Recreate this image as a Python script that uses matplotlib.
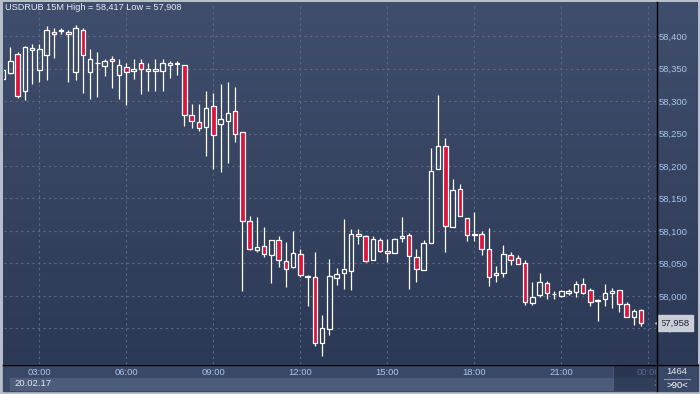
import numpy as np
import matplotlib
matplotlib.use("Agg")
import matplotlib.pyplot as plt
import matplotlib.transforms as mtransforms
from matplotlib.colors import LinearSegmentedColormap
from matplotlib.lines import Line2D
from matplotlib.patches import Rectangle
from matplotlib.ticker import FuncFormatter

# USDRUB 15 minute bars, first bar 01:45 (partly hidden at left edge)
symbol = "USDRUB 15M"
start_time = "01:45"
bar_minutes = 15

opens = [
    58.334, 58.343, 58.372, 58.316, 58.378, 58.348, 58.371, 58.407, 58.408, 58.407,
    58.344, 58.410, 58.344, 58.358, 58.354, 58.365, 58.340, 58.352, 58.347, 58.358,
    58.347, 58.347, 58.347, 58.355, 58.357, 58.355, 58.279, 58.267, 58.260, 58.292,
    58.264, 58.270, 58.284, 58.252, 58.115, 58.071, 58.076, 58.063, 58.086, 58.053,
    58.044, 58.064, 58.029, 58.029, 57.927, 57.949, 58.027, 58.035, 58.038, 58.092,
    58.092, 58.055, 58.086, 58.069, 58.066, 58.089, 58.093, 58.060, 58.040, 58.081,
    58.195, 58.230, 58.106, 58.164, 58.120, 58.093, 58.095, 58.072, 58.032, 58.035,
    58.063, 58.058, 58.050, 57.989, 58.001, 58.020, 58.003, 58.000, 58.004, 58.006,
    58.018, 58.009, 57.992, 57.995, 58.004, 58.009, 57.987, 57.967, 57.978]
highs = [
    58.348, 58.383, 58.376, 58.385, 58.388, 58.388, 58.415, 58.412, 58.412, 58.409,
    58.417, 58.413, 58.380, 58.376, 58.365, 58.369, 58.364, 58.359, 58.364, 58.365,
    58.358, 58.364, 58.364, 58.361, 58.361, 58.356, 58.296, 58.296, 58.315, 58.313,
    58.327, 58.329, 58.322, 58.252, 58.123, 58.121, 58.106, 58.086, 58.092, 58.083,
    58.100, 58.072, 58.032, 58.067, 57.970, 58.056, 58.043, 58.118, 58.103, 58.103,
    58.093, 58.092, 58.089, 58.087, 58.089, 58.121, 58.096, 58.072, 58.086, 58.227,
    58.310, 58.243, 58.180, 58.173, 58.120, 58.129, 58.100, 58.105, 58.046, 58.078,
    58.067, 58.063, 58.055, 58.021, 58.035, 58.023, 58.007, 58.009, 58.010, 58.023,
    58.027, 58.012, 57.995, 58.018, 58.012, 58.009, 57.990, 57.980, 57.980]
lows = [
    58.334, 58.341, 58.305, 58.302, 58.326, 58.329, 58.332, 58.367, 58.403, 58.329,
    58.333, 58.313, 58.303, 58.306, 58.339, 58.320, 58.303, 58.294, 58.334, 58.311,
    58.316, 58.316, 58.316, 58.336, 58.340, 58.262, 58.259, 58.254, 58.216, 58.196,
    58.190, 58.205, 58.237, 58.007, 58.071, 58.068, 58.060, 58.020, 58.044, 58.013,
    58.043, 58.029, 57.984, 57.923, 57.908, 57.940, 58.016, 58.010, 58.009, 58.080,
    58.052, 58.055, 58.067, 58.052, 58.066, 58.083, 58.011, 58.021, 58.040, 58.081,
    58.195, 58.068, 58.106, 58.123, 58.084, 58.084, 58.063, 58.015, 58.021, 58.029,
    58.047, 58.049, 57.986, 57.986, 57.998, 57.995, 57.995, 57.998, 58.001, 57.998,
    58.003, 57.984, 57.961, 57.984, 57.981, 57.975, 57.967, 57.955, 57.953]
closes = [
    58.348, 58.361, 58.307, 58.383, 58.381, 58.380, 58.410, 58.404, 58.410, 58.404,
    58.413, 58.371, 58.364, 58.358, 58.361, 58.361, 58.355, 58.344, 58.350, 58.350,
    58.350, 58.350, 58.358, 58.358, 58.359, 58.278, 58.269, 58.259, 58.290, 58.248,
    58.272, 58.281, 58.249, 58.116, 58.072, 58.075, 58.064, 58.086, 58.055, 58.041,
    58.066, 58.032, 58.030, 57.927, 57.950, 58.030, 58.033, 58.041, 58.095, 58.095,
    58.053, 58.087, 58.069, 58.066, 58.087, 58.092, 58.061, 58.041, 58.081, 58.193,
    58.230, 58.108, 58.163, 58.123, 58.093, 58.095, 58.072, 58.029, 58.035, 58.064,
    58.055, 58.049, 57.990, 57.998, 58.021, 58.004, 58.003, 58.007, 58.007, 58.018,
    58.004, 57.990, 57.993, 58.004, 58.007, 57.987, 57.967, 57.976, 57.958]

tick_times = ["03:00", "06:00", "09:00", "12:00", "15:00", "18:00", "21:00", "00:00"]
price_ticks = [57.95, 58.00, 58.05, 58.10, 58.15, 58.20, 58.25, 58.30, 58.35, 58.40]
dates = ["20.02.17", "21.02.17"]
bars_total = "1464"
zoom_text = ">90<"

plt.rcParams["font.family"] = ["Liberation Sans", "DejaVu Sans"]

W, H = 700, 394


def box(x0, y0, x1, y1):
    # pixel box -> figure fraction rect
    return [x0 / W, 1 - y1 / H, (x1 - x0) / W, (y1 - y0) / H]


def fmt(v):
    return f"{v:.3f}".replace(".", ",")


def minutes(t):
    h, m = map(int, t.split(":"))
    return h * 60 + m


t0 = minutes(start_time)
tick_pos = [((minutes(t) - t0) % 1440) / bar_minutes for t in tick_times]

fig = plt.figure(figsize=(7, 3.94), dpi=100, facecolor="#b7bfcb")

# background gradient of chart + price scale
bg = fig.add_axes(box(3, 2, 698, 364), zorder=0)
cmap = LinearSegmentedColormap.from_list("bg", ["#404e6d", "#2c3956"])
bg.imshow(np.linspace(0, 1, 256).reshape(-1, 1), aspect="auto", cmap=cmap,
          extent=(0, 1, 0, 1), origin="upper")
bg.axis("off")

# time axis strip
fig.add_artist(Rectangle((3 / W, 1 - 391 / H), 695 / W, 27 / H,
                         transform=fig.transFigure, color="#3a4867", zorder=0))

ax = fig.add_axes(box(4, 3, 656, 364), zorder=2)
ax.set_facecolor("none")
for s in ax.spines.values():
    s.set_visible(False)

o = np.array(opens)
c = np.array(closes)
hi = np.array(highs)
lo = np.array(lows)
x = np.arange(len(o))
up = c >= o
top = np.maximum(o, c)
bot = np.minimum(o, c)

ax.vlines(x, top, hi, color="white", lw=0.9, zorder=3)
ax.vlines(x, lo, bot, color="white", lw=0.9, zorder=3)
ax.bar(x[up], (top - bot)[up], bottom=bot[up], width=0.62, facecolor="none",
       edgecolor="white", lw=0.9, zorder=4)
ax.bar(x[~up], (top - bot)[~up], bottom=bot[~up], width=0.62, facecolor="#dc143c",
       edgecolor="white", lw=0.9, zorder=4)

ax.set_xlim(0.13, 90.06)
ax.set_ylim(57.895, 58.451)
ax.set_xticks(tick_pos)
ax.set_yticks(price_ticks)
ax.yaxis.tick_right()
ax.tick_params(axis="x", length=0, labelbottom=False)
ax.tick_params(axis="y", length=0, pad=2, labelcolor="#a9c5ec", labelsize=6.8)
ax.yaxis.set_major_formatter(FuncFormatter(lambda v, p: fmt(v)))
ax.grid(True, color="#5b6986", lw=0.8, ls=(0, (2, 3)))
ax.set_axisbelow(True)

ax.text(1 / 652, 1 - 5 / 361,
        f"{symbol} High = {fmt(max(highs))} Low = {fmt(min(lows))}",
        transform=ax.transAxes, ha="left", va="center", color="#e6ecf4", fontsize=6.6)

# last price marker on the price scale
trans = mtransforms.blended_transform_factory(ax.transAxes, ax.transData)
ax.text(1.0075, closes[-1], fmt(closes[-1]), transform=trans, ha="left", va="center",
        fontsize=6.8, color="#1b2333", clip_on=False, zorder=6,
        bbox=dict(boxstyle="square,pad=0.35", fc="#c9ced7", ec="#c9ced7"))
ax.plot([1.003], [closes[-1]], marker="<", ms=5, color="#c9ced7", transform=trans,
        clip_on=False, zorder=6)

# time labels
axt = fig.add_axes(box(4, 364, 656, 391), zorder=3)
axt.set_xlim(ax.get_xlim())
axt.set_ylim(0, 1)
axt.axis("off")
axt.add_patch(Rectangle((6 / 652, 0), 1, 13 / 27, transform=axt.transAxes,
                        color="#4d5c7b", zorder=1))
for p, t in zip(tick_pos, tick_times):
    axt.text(p, 0.68, t, ha="center", va="center", color="#a9c5ec", fontsize=6.8,
             clip_on=True, zorder=2)
axt.text(10 / 652, 0.26, dates[0], transform=axt.transAxes, ha="left", va="center",
         color="#e3e9f2", fontsize=6.8, clip_on=True, zorder=2)
axt.text(649 / 652, 0.26, dates[1][:1], transform=axt.transAxes, ha="left", va="center",
         color="#e3e9f2", fontsize=6.8, clip_on=True, zorder=2)
axt.add_patch(Rectangle((609 / 652, 0), 1, 0.96, transform=axt.transAxes,
                        fc="#1f2a44", ec="#5a6680", lw=0.8, alpha=0.6, zorder=3))

# bottom right counter
fig.text(677 / W, 1 - 371.5 / H, bars_total, ha="center", va="center",
         color="#dfe7f2", fontsize=6.8)
fig.text(677 / W, 1 - 385.5 / H, zoom_text, ha="center", va="center",
         color="white", fontsize=6.8)
fig.add_artist(Line2D([664 / W, 690 / W], [1 - 378.5 / H] * 2, color="#8a97ad", lw=0.8))

# frame lines
fig.add_artist(Line2D([656.5 / W] * 2, [1 - 2 / H, 1 - 391 / H], color="black", lw=1, zorder=5))
fig.add_artist(Line2D([3 / W, 698 / W], [1 - 364.5 / H] * 2, color="black", lw=1, zorder=5))

fig.savefig("out.png", dpi=100, facecolor=fig.get_facecolor())
